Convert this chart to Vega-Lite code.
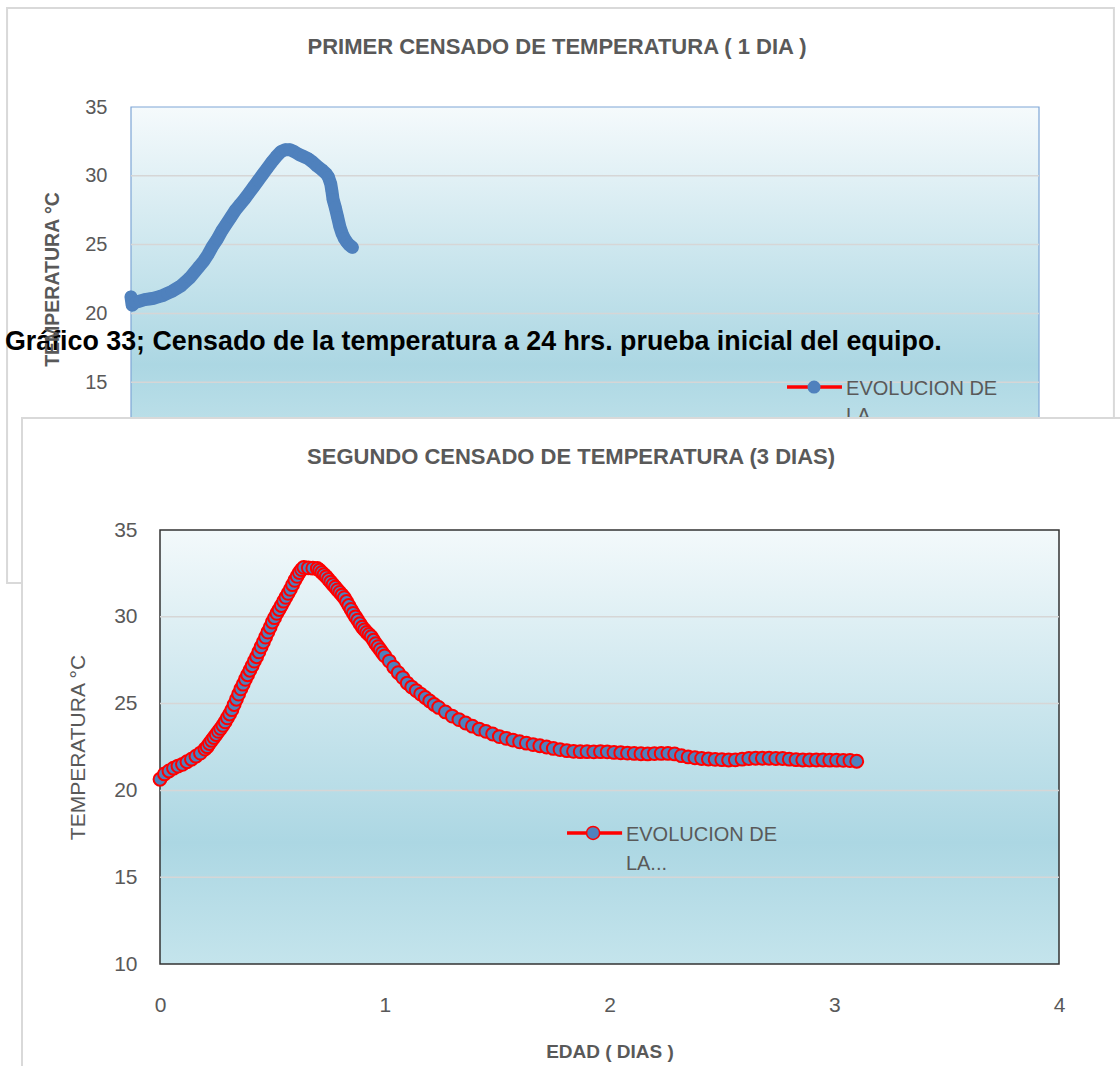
{
  "$schema": "https://vega.github.io/schema/vega-lite/v6.json",
  "width": 1120,
  "height": 1066,
  "autosize": "none",
  "padding": 0,
  "background": "white",
  "config": {"view": {"stroke": null}, "font": "Liberation Sans"},
  "datasets": {
    "top": [
      {"d":0,"t":21.2},{"d":0.005,"t":20.6},{"d":0.02,"t":20.8},{"d":0.04,"t":20.9},{"d":0.06,"t":21.0},{"d":0.08,"t":21.05},{"d":0.1,"t":21.1},{"d":0.12,"t":21.2},{"d":0.14,"t":21.3},{"d":0.16,"t":21.45},{"d":0.18,"t":21.6},{"d":0.2,"t":21.8},{"d":0.22,"t":22.0},{"d":0.24,"t":22.3},{"d":0.26,"t":22.6},{"d":0.28,"t":23.0},{"d":0.3,"t":23.4},{"d":0.32,"t":23.8},{"d":0.34,"t":24.3},{"d":0.36,"t":24.9},{"d":0.38,"t":25.4},{"d":0.4,"t":26.0},{"d":0.42,"t":26.5},{"d":0.44,"t":27.0},{"d":0.46,"t":27.5},{"d":0.48,"t":27.9},{"d":0.5,"t":28.3},{"d":0.52,"t":28.75},{"d":0.54,"t":29.2},{"d":0.56,"t":29.65},{"d":0.58,"t":30.1},{"d":0.6,"t":30.55},{"d":0.62,"t":31.0},{"d":0.64,"t":31.4},{"d":0.66,"t":31.75},{"d":0.68,"t":31.9},{"d":0.7,"t":31.9},{"d":0.72,"t":31.75},{"d":0.74,"t":31.55},{"d":0.76,"t":31.4},{"d":0.78,"t":31.25},{"d":0.8,"t":31.0},{"d":0.82,"t":30.7},{"d":0.84,"t":30.45},{"d":0.86,"t":30.15},{"d":0.87,"t":29.9},{"d":0.88,"t":29.4},{"d":0.885,"t":28.9},{"d":0.89,"t":28.3},{"d":0.9,"t":27.7},{"d":0.91,"t":27.0},{"d":0.92,"t":26.3},{"d":0.93,"t":25.8},{"d":0.94,"t":25.45},{"d":0.95,"t":25.2},{"d":0.96,"t":25.0},{"d":0.975,"t":24.8}
    ],
    "bottom": [
      {"d":0,"t":20.64},{"d":0.02,"t":20.95},{"d":0.04,"t":21.12},{"d":0.06,"t":21.28},{"d":0.08,"t":21.4},{"d":0.1,"t":21.5},{"d":0.12,"t":21.65},{"d":0.14,"t":21.8},{"d":0.16,"t":21.97},{"d":0.18,"t":22.15},{"d":0.2,"t":22.38},{"d":0.21,"t":22.52},{"d":0.22,"t":22.7},{"d":0.23,"t":22.88},{"d":0.24,"t":23.05},{"d":0.25,"t":23.22},{"d":0.26,"t":23.4},{"d":0.27,"t":23.57},{"d":0.28,"t":23.75},{"d":0.29,"t":23.95},{"d":0.3,"t":24.18},{"d":0.31,"t":24.4},{"d":0.32,"t":24.65},{"d":0.33,"t":24.95},{"d":0.34,"t":25.25},{"d":0.35,"t":25.55},{"d":0.36,"t":25.85},{"d":0.37,"t":26.12},{"d":0.38,"t":26.4},{"d":0.39,"t":26.66},{"d":0.4,"t":26.92},{"d":0.41,"t":27.18},{"d":0.42,"t":27.45},{"d":0.43,"t":27.7},{"d":0.44,"t":27.98},{"d":0.45,"t":28.27},{"d":0.46,"t":28.55},{"d":0.47,"t":28.83},{"d":0.48,"t":29.12},{"d":0.49,"t":29.4},{"d":0.5,"t":29.7},{"d":0.51,"t":29.95},{"d":0.52,"t":30.2},{"d":0.53,"t":30.42},{"d":0.54,"t":30.65},{"d":0.55,"t":30.9},{"d":0.56,"t":31.12},{"d":0.57,"t":31.35},{"d":0.58,"t":31.58},{"d":0.59,"t":31.85},{"d":0.6,"t":32.1},{"d":0.61,"t":32.33},{"d":0.62,"t":32.55},{"d":0.63,"t":32.72},{"d":0.64,"t":32.85},{"d":0.66,"t":32.82},{"d":0.68,"t":32.8},{"d":0.7,"t":32.78},{"d":0.71,"t":32.68},{"d":0.72,"t":32.55},{"d":0.73,"t":32.43},{"d":0.74,"t":32.3},{"d":0.75,"t":32.15},{"d":0.76,"t":32.0},{"d":0.77,"t":31.85},{"d":0.78,"t":31.7},{"d":0.79,"t":31.55},{"d":0.8,"t":31.4},{"d":0.81,"t":31.25},{"d":0.82,"t":31.1},{"d":0.83,"t":30.88},{"d":0.84,"t":30.65},{"d":0.85,"t":30.42},{"d":0.86,"t":30.2},{"d":0.87,"t":30.0},{"d":0.88,"t":29.8},{"d":0.89,"t":29.6},{"d":0.9,"t":29.4},{"d":0.91,"t":29.25},{"d":0.92,"t":29.1},{"d":0.93,"t":28.98},{"d":0.94,"t":28.85},{"d":0.95,"t":28.65},{"d":0.96,"t":28.45},{"d":0.97,"t":28.28},{"d":0.98,"t":28.1},{"d":0.99,"t":27.92},{"d":1.0,"t":27.75},{"d":1.02,"t":27.45},{"d":1.04,"t":27.1},{"d":1.06,"t":26.78},{"d":1.08,"t":26.5},{"d":1.1,"t":26.18},{"d":1.12,"t":25.95},{"d":1.14,"t":25.75},{"d":1.16,"t":25.55},{"d":1.18,"t":25.35},{"d":1.2,"t":25.15},{"d":1.22,"t":24.95},{"d":1.24,"t":24.78},{"d":1.27,"t":24.52},{"d":1.3,"t":24.28},{"d":1.33,"t":24.08},{"d":1.36,"t":23.88},{"d":1.39,"t":23.7},{"d":1.42,"t":23.53},{"d":1.45,"t":23.4},{"d":1.48,"t":23.25},{"d":1.51,"t":23.1},{"d":1.54,"t":23.0},{"d":1.57,"t":22.9},{"d":1.6,"t":22.8},{"d":1.63,"t":22.72},{"d":1.66,"t":22.64},{"d":1.69,"t":22.57},{"d":1.72,"t":22.5},{"d":1.75,"t":22.42},{"d":1.78,"t":22.35},{"d":1.81,"t":22.29},{"d":1.84,"t":22.25},{"d":1.87,"t":22.23},{"d":1.9,"t":22.23},{"d":1.93,"t":22.22},{"d":1.96,"t":22.23},{"d":1.99,"t":22.22},{"d":2.02,"t":22.19},{"d":2.05,"t":22.17},{"d":2.08,"t":22.15},{"d":2.11,"t":22.13},{"d":2.14,"t":22.11},{"d":2.17,"t":22.1},{"d":2.2,"t":22.12},{"d":2.23,"t":22.13},{"d":2.26,"t":22.13},{"d":2.29,"t":22.1},{"d":2.32,"t":22.0},{"d":2.35,"t":21.93},{"d":2.38,"t":21.88},{"d":2.41,"t":21.84},{"d":2.44,"t":21.81},{"d":2.47,"t":21.79},{"d":2.5,"t":21.77},{"d":2.53,"t":21.75},{"d":2.56,"t":21.76},{"d":2.59,"t":21.8},{"d":2.62,"t":21.84},{"d":2.65,"t":21.85},{"d":2.68,"t":21.85},{"d":2.71,"t":21.85},{"d":2.74,"t":21.84},{"d":2.77,"t":21.84},{"d":2.8,"t":21.8},{"d":2.83,"t":21.77},{"d":2.86,"t":21.75},{"d":2.89,"t":21.75},{"d":2.92,"t":21.75},{"d":2.95,"t":21.75},{"d":2.98,"t":21.74},{"d":3.01,"t":21.74},{"d":3.04,"t":21.73},{"d":3.07,"t":21.72},{"d":3.1,"t":21.68}
    ],
    "grid": [{"g":15},{"g":20},{"g":25},{"g":30}],
    "one": [{}]
  },
  "layer": [
    {
      "layer": [
        {
          "data": {"name": "one"},
          "mark": {"type": "rect", "fill": "white", "stroke": "#d9d9d9", "strokeWidth": 2},
          "encoding": {
            "x": {"datum": -0.546, "type": "quantitative", "scale": {"domain": [0, 4], "range": [131, 1039], "nice": false, "zero": false}, "axis": null},
            "x2": {"datum": 4.33},
            "y": {"datum": 42.195, "type": "quantitative", "scale": {"domain": [10, 35], "range": [451, 107], "nice": false, "zero": false}},
            "y2": {"datum": 0.407}
          }
        },
        {
          "data": {"name": "one"},
          "mark": {"type": "rect", "stroke": "#7ea6d6", "strokeWidth": 1.2,
            "fill": {"gradient": "linear", "x1": 0, "y1": 0, "x2": 0, "y2": 1, "stops": [{"offset": 0, "color": "#f5fafc"}, {"offset": 0.75, "color": "#acd7e3"}, {"offset": 1, "color": "#c2e3eb"}]}},
          "encoding": {
            "x": {"datum": 0, "type": "quantitative", "scale": {"domain": [0, 4], "range": [131, 1039], "nice": false, "zero": false}, "axis": null},
            "x2": {"datum": 4},
            "y": {"datum": 35, "type": "quantitative", "scale": {"domain": [10, 35], "range": [451, 107], "nice": false, "zero": false}},
            "y2": {"datum": 10}
          }
        },
        {
          "data": {"name": "grid"},
          "mark": {"type": "rule", "stroke": "#d6d6d6", "strokeWidth": 1.5},
          "encoding": {
            "x": {"datum": 0, "type": "quantitative", "scale": {"domain": [0, 4], "range": [131, 1039], "nice": false, "zero": false}, "axis": null},
            "x2": {"datum": 4},
            "y": {"field": "g", "type": "quantitative", "scale": {"domain": [10, 35], "range": [451, 107], "nice": false, "zero": false}}
          }
        },
        {
          "data": {"name": "top"},
          "mark": {"type": "line", "color": "#4f81bd", "strokeWidth": 13, "strokeCap": "round", "strokeJoin": "round"},
          "encoding": {
            "x": {"field": "d", "type": "quantitative", "scale": {"domain": [0, 4], "range": [131, 1039], "nice": false, "zero": false}, "axis": null},
            "y": {"field": "t", "type": "quantitative", "scale": {"domain": [10, 35], "range": [451, 107], "nice": false, "zero": false},
              "axis": {"orient": "left", "offset": -131, "values": [15, 20, 25, 30, 35], "domain": false, "ticks": false, "grid": false, "labelFlush": false, "labelPadding": 24, "labelFont": "Liberation Sans", "labelFontSize": 20, "labelColor": "#595959", "title": "TEMPERATURA °C", "titleFont": "Liberation Sans", "titleFontSize": 19.5, "titleFontWeight": "bold", "titleColor": "#595959", "titlePadding": 22, "zindex": 1}}
          }
        },
        {
          "data": {"name": "top"},
          "mark": {"type": "circle", "fill": "#4f81bd", "size": 150, "opacity": 1},
          "encoding": {
            "x": {"field": "d", "type": "quantitative", "scale": {"domain": [0, 4], "range": [131, 1039], "nice": false, "zero": false}, "axis": null},
            "y": {"field": "t", "type": "quantitative", "scale": {"domain": [10, 35], "range": [451, 107], "nice": false, "zero": false}}
          }
        },
        {
          "data": {"name": "one"},
          "mark": {"type": "text", "text": "PRIMER CENSADO DE TEMPERATURA ( 1 DIA )", "align": "center", "baseline": "middle", "font": "Liberation Sans", "fontSize": 22, "fontWeight": "bold", "color": "#595959"},
          "encoding": {
            "x": {"datum": 1.877, "type": "quantitative", "scale": {"domain": [0, 4], "range": [131, 1039], "nice": false, "zero": false}, "axis": null},
            "y": {"datum": 39.36, "type": "quantitative", "scale": {"domain": [10, 35], "range": [451, 107], "nice": false, "zero": false}}
          }
        },
        {
          "data": {"name": "one"},
          "mark": {"type": "rule", "stroke": "#ff0000", "strokeWidth": 3.5},
          "encoding": {
            "x": {"datum": 2.89, "type": "quantitative", "scale": {"domain": [0, 4], "range": [131, 1039], "nice": false, "zero": false}, "axis": null},
            "x2": {"datum": 3.132},
            "y": {"datum": 14.65, "type": "quantitative", "scale": {"domain": [10, 35], "range": [451, 107], "nice": false, "zero": false}}
          }
        },
        {
          "data": {"name": "one"},
          "mark": {"type": "circle", "fill": "#4f81bd", "size": 170, "opacity": 1},
          "encoding": {
            "x": {"datum": 3.009, "type": "quantitative", "scale": {"domain": [0, 4], "range": [131, 1039], "nice": false, "zero": false}, "axis": null},
            "y": {"datum": 14.65, "type": "quantitative", "scale": {"domain": [10, 35], "range": [451, 107], "nice": false, "zero": false}}
          }
        },
        {
          "data": {"name": "one"},
          "mark": {"type": "text", "text": ["EVOLUCION DE", "LA"], "align": "left", "baseline": "alphabetic", "lineHeight": 27, "font": "Liberation Sans", "fontSize": 20, "color": "#595959"},
          "encoding": {
            "x": {"datum": 3.15, "type": "quantitative", "scale": {"domain": [0, 4], "range": [131, 1039], "nice": false, "zero": false}, "axis": null},
            "y": {"datum": 14.07, "type": "quantitative", "scale": {"domain": [10, 35], "range": [451, 107], "nice": false, "zero": false}}
          }
        },
        {
          "data": {"name": "one"},
          "mark": {"type": "text", "text": "Gráfico 33; Censado de la temperatura a 24 hrs. prueba inicial del equipo.", "align": "left", "baseline": "alphabetic", "font": "Liberation Sans", "fontSize": 26.8, "fontWeight": "bold", "color": "#000000"},
          "encoding": {
            "x": {"datum": -0.555, "type": "quantitative", "scale": {"domain": [0, 4], "range": [131, 1039], "nice": false, "zero": false}, "axis": null},
            "y": {"datum": 17.34, "type": "quantitative", "scale": {"domain": [10, 35], "range": [451, 107], "nice": false, "zero": false}}
          }
        }
      ]
    },
    {
      "layer": [
        {
          "data": {"name": "one"},
          "mark": {"type": "rect", "fill": "white", "stroke": "#d9d9d9", "strokeWidth": 2},
          "encoding": {
            "x": {"datum": -0.614, "type": "quantitative", "scale": {"domain": [0, 4], "range": [160, 1059], "nice": false, "zero": false}},
            "x2": {"datum": 4.316},
            "y": {"datum": 41.45, "type": "quantitative", "scale": {"domain": [10, 35], "range": [964, 530], "nice": false, "zero": false}},
            "y2": {"datum": 3.32}
          }
        },
        {
          "data": {"name": "one"},
          "mark": {"type": "rect", "stroke": "#333333", "strokeWidth": 1.5,
            "fill": {"gradient": "linear", "x1": 0, "y1": 0, "x2": 0, "y2": 1, "stops": [{"offset": 0, "color": "#f3f9fb"}, {"offset": 0.72, "color": "#acd7e3"}, {"offset": 1, "color": "#c4e4ec"}]}},
          "encoding": {
            "x": {"datum": 0, "type": "quantitative", "scale": {"domain": [0, 4], "range": [160, 1059], "nice": false, "zero": false}},
            "x2": {"datum": 4},
            "y": {"datum": 35, "type": "quantitative", "scale": {"domain": [10, 35], "range": [964, 530], "nice": false, "zero": false}},
            "y2": {"datum": 10}
          }
        },
        {
          "data": {"name": "grid"},
          "mark": {"type": "rule", "stroke": "#d6d6d6", "strokeWidth": 1.5},
          "encoding": {
            "x": {"datum": 0, "type": "quantitative", "scale": {"domain": [0, 4], "range": [160, 1059], "nice": false, "zero": false}},
            "x2": {"datum": 4},
            "y": {"field": "g", "type": "quantitative", "scale": {"domain": [10, 35], "range": [964, 530], "nice": false, "zero": false}}
          }
        },
        {
          "data": {"name": "one"},
          "mark": {"type": "text", "text": "SEGUNDO CENSADO DE TEMPERATURA (3 DIAS)", "align": "center", "baseline": "middle", "font": "Liberation Sans", "fontSize": 22, "fontWeight": "bold", "color": "#595959"},
          "encoding": {
            "x": {"datum": 1.829, "type": "quantitative", "scale": {"domain": [0, 4], "range": [160, 1059], "nice": false, "zero": false}},
            "y": {"datum": 39.21, "type": "quantitative", "scale": {"domain": [10, 35], "range": [964, 530], "nice": false, "zero": false}}
          }
        },
        {
          "data": {"name": "bottom"},
          "mark": {"type": "line", "color": "#ff0000", "strokeWidth": 3},
          "encoding": {
            "x": {"field": "d", "type": "quantitative", "scale": {"domain": [0, 4], "range": [160, 1059], "nice": false, "zero": false},
              "axis": {"orient": "bottom", "offset": -102, "values": [0, 1, 2, 3, 4], "format": "d", "domain": false, "ticks": false, "grid": false, "labelFlush": false, "labelPadding": 30, "labelFont": "Liberation Sans", "labelFontSize": 21, "labelColor": "#595959", "title": "EDAD ( DIAS )", "titleFont": "Liberation Sans", "titleFontSize": 19, "titleFontWeight": "bold", "titleColor": "#595959", "titlePadding": 27, "zindex": 1}},
            "y": {"field": "t", "type": "quantitative", "scale": {"domain": [10, 35], "range": [964, 530], "nice": false, "zero": false},
              "axis": {"orient": "left", "offset": -160, "values": [10, 15, 20, 25, 30, 35], "domain": false, "ticks": false, "grid": false, "labelFlush": false, "labelPadding": 23, "labelFont": "Liberation Sans", "labelFontSize": 21, "labelColor": "#595959", "title": "TEMPERATURA °C", "titleFont": "Liberation Sans", "titleFontSize": 21, "titleFontWeight": "normal", "titleColor": "#595959", "titlePadding": 25, "zindex": 1}}
          }
        },
        {
          "data": {"name": "bottom"},
          "mark": {"type": "circle", "fill": "#4f81bd", "stroke": "#ff0000", "strokeWidth": 2, "size": 165, "opacity": 1},
          "encoding": {
            "x": {"field": "d", "type": "quantitative", "scale": {"domain": [0, 4], "range": [160, 1059], "nice": false, "zero": false}},
            "y": {"field": "t", "type": "quantitative", "scale": {"domain": [10, 35], "range": [964, 530], "nice": false, "zero": false}}
          }
        },
        {
          "data": {"name": "one"},
          "mark": {"type": "rule", "stroke": "#ff0000", "strokeWidth": 3.5},
          "encoding": {
            "x": {"datum": 1.811, "type": "quantitative", "scale": {"domain": [0, 4], "range": [160, 1059], "nice": false, "zero": false}},
            "x2": {"datum": 2.056},
            "y": {"datum": 17.55, "type": "quantitative", "scale": {"domain": [10, 35], "range": [964, 530], "nice": false, "zero": false}}
          }
        },
        {
          "data": {"name": "one"},
          "mark": {"type": "circle", "fill": "#4f81bd", "stroke": "#ff0000", "strokeWidth": 1.5, "size": 170, "opacity": 1},
          "encoding": {
            "x": {"datum": 1.927, "type": "quantitative", "scale": {"domain": [0, 4], "range": [160, 1059], "nice": false, "zero": false}},
            "y": {"datum": 17.55, "type": "quantitative", "scale": {"domain": [10, 35], "range": [964, 530], "nice": false, "zero": false}}
          }
        },
        {
          "data": {"name": "one"},
          "mark": {"type": "text", "text": ["EVOLUCION DE", "LA..."], "align": "left", "baseline": "alphabetic", "lineHeight": 29, "font": "Liberation Sans", "fontSize": 20, "color": "#595959"},
          "encoding": {
            "x": {"datum": 2.073, "type": "quantitative", "scale": {"domain": [0, 4], "range": [160, 1059], "nice": false, "zero": false}},
            "y": {"datum": 17.085, "type": "quantitative", "scale": {"domain": [10, 35], "range": [964, 530], "nice": false, "zero": false}}
          }
        }
      ]
    }
  ],
  "resolve": {"scale": {"x": "independent", "y": "independent"}, "axis": {"x": "independent", "y": "independent"}}
}
